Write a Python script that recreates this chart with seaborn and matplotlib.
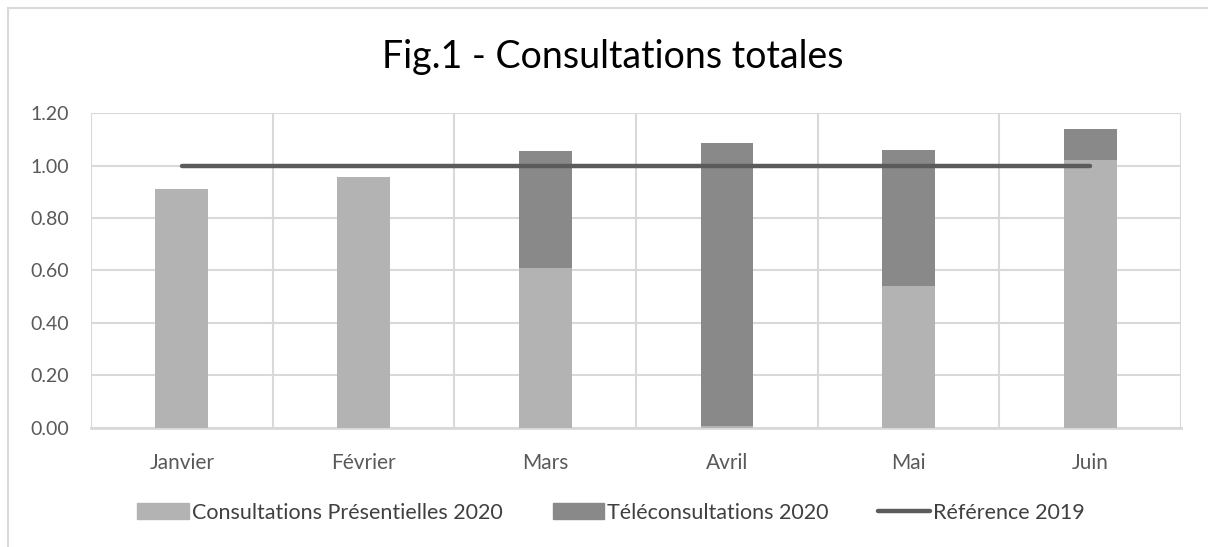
import matplotlib
matplotlib.use("Agg")
import matplotlib.pyplot as plt
import matplotlib.patches as mpatches
from matplotlib.lines import Line2D
import seaborn as sns
import numpy as np
import pandas as pd

# data
mois = ["Janvier", "Février", "Mars", "Avril", "Mai", "Juin"]
presentiel = [0.910, 0.957, 0.608, 0.009, 0.542, 1.021]
tele = [0.0, 0.0, 0.446, 1.077, 0.518, 0.118]
reference = [1.0, 1.0, 1.0, 1.0, 1.0, 1.0]

df = pd.DataFrame({"Mois": mois, "Presentiel": presentiel, "Tele": tele})
df["Total"] = df["Presentiel"] + df["Tele"]

light = "#b3b3b3"
dark = "#898989"
line_col = "#5b5b5b"
grid_col = "#d9d9d9"
text_col = "#595959"

sns.set_style("white")
plt.rcParams["font.family"] = ["Lato", "DejaVu Sans"]

fig = plt.figure(figsize=(12.08, 5.47), dpi=100)
ax = fig.add_axes([0.0753, 0.2176, 0.9024, 0.5758])

# stacked bars: total first (dark), presentiel on top (light)
sns.barplot(data=df, x="Mois", y="Total", color=dark, width=0.29,
            saturation=1, linewidth=0, ax=ax, zorder=2)
sns.barplot(data=df, x="Mois", y="Presentiel", color=light, width=0.29,
            saturation=1, linewidth=0, ax=ax, zorder=3)
sns.lineplot(x=np.arange(len(mois)), y=reference, color=line_col, lw=3.2,
             solid_capstyle="round", ax=ax, zorder=4)

ax.set_xlim(-0.5, 5.5)
ax.set_ylim(0, 1.2)
ax.set_yticks(np.arange(0, 1.21, 0.2))
ax.set_yticklabels([f"{v:.2f}" for v in np.arange(0, 1.21, 0.2)])
ax.set_xticks(range(len(mois)))
ax.set_xticklabels(mois)
ax.set_xticks(np.arange(-0.5, 6, 1), minor=True)
ax.set_xlabel("")
ax.set_ylabel("")

ax.grid(axis="y", color=grid_col, lw=1.5, zorder=0)
ax.grid(axis="x", which="minor", color=grid_col, lw=1.5, zorder=0)
ax.grid(axis="x", which="major", visible=False)
ax.set_axisbelow(True)
for s in ["left", "right", "top"]:
    ax.spines[s].set_visible(False)
ax.spines["bottom"].set_color(grid_col)
ax.spines["bottom"].set_linewidth(2)

ax.tick_params(axis="x", which="major", length=0, pad=18, labelsize=15, labelcolor=text_col)
ax.tick_params(axis="x", which="minor", length=7, width=1.5, color=grid_col, direction="out")
ax.tick_params(axis="y", length=0, pad=16, labelsize=14, labelcolor=text_col)

fig.suptitle("Fig.1 - Consultations totales", x=0.507, y=0.928, fontsize=27, color="#000000")

handles = [
    mpatches.Patch(color=light, label="Consultations Présentielles 2020"),
    mpatches.Patch(color=dark, label="Téléconsultations 2020"),
    Line2D([0], [0], color=line_col, lw=3.2, label="Référence 2019"),
]
fig.legend(handles=handles, loc="center", bbox_to_anchor=(0.506, 0.063), ncol=3,
           frameon=False, fontsize=15.5, handlelength=2.4, handleheight=0.75,
           handletextpad=0.15, columnspacing=2.3, labelcolor="#404040")

# outer chart border
fig.patches.append(mpatches.Rectangle((8 / 1208, -0.1), 1.2, 1.1 - 8 / 547,
                                      transform=fig.transFigure, fill=False,
                                      edgecolor=grid_col, lw=1.5))

fig.savefig("out.png", dpi=100)
